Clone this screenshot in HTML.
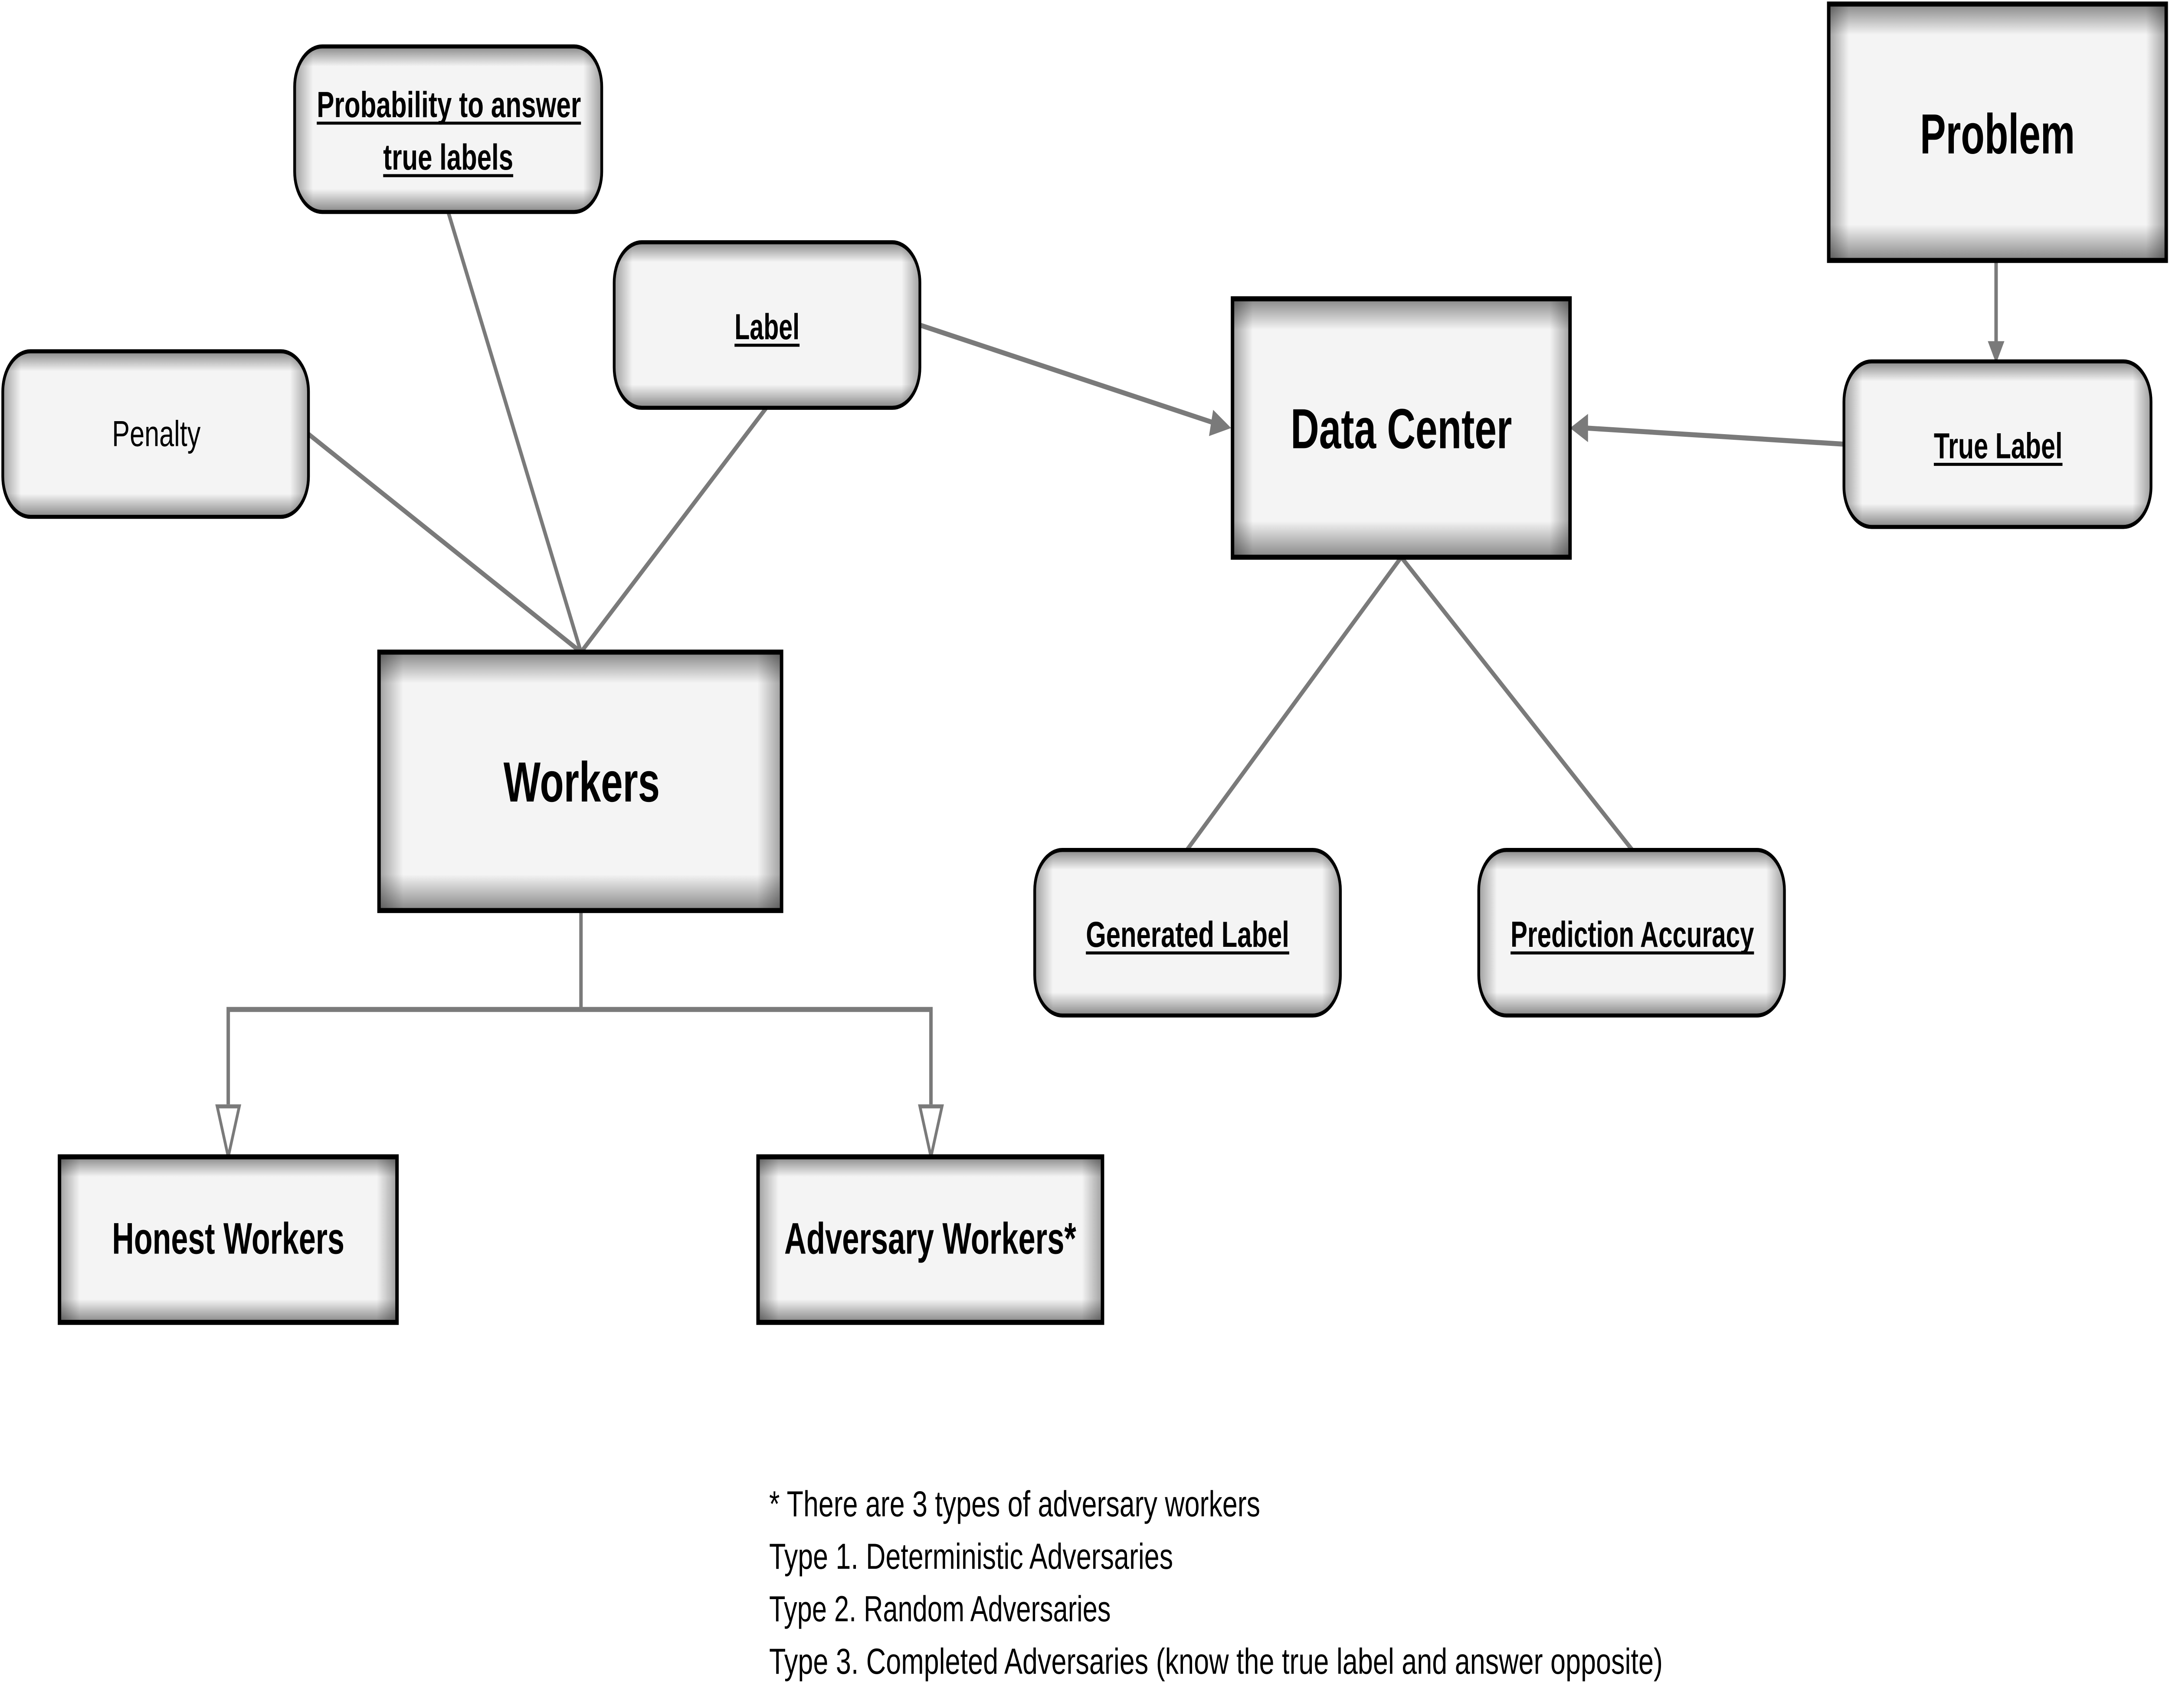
<!DOCTYPE html>
<html><head><meta charset="utf-8"><style>
html,body{margin:0;padding:0;background:#fff;width:100vw;height:100vh;overflow:hidden}
svg{display:block;position:absolute;left:0;top:0;width:100vw;height:100vh}
text{font-family:"Liberation Sans",sans-serif;fill:#000}
</style></head><body>
<svg viewBox="0 0 1568 846" preserveAspectRatio="none" xmlns="http://www.w3.org/2000/svg">
<defs>
<linearGradient id="gv" x1="0" y1="0" x2="0" y2="1">
<stop offset="0" stop-color="#000" stop-opacity="0.45"/>
<stop offset="0.12" stop-color="#000" stop-opacity="0"/>
<stop offset="0.86" stop-color="#000" stop-opacity="0"/>
<stop offset="1" stop-color="#000" stop-opacity="0.45"/>
</linearGradient>
<linearGradient id="gh" x1="0" y1="0" x2="1" y2="0">
<stop offset="0" stop-color="#000" stop-opacity="0.35"/>
<stop offset="0.06" stop-color="#000" stop-opacity="0"/>
<stop offset="0.94" stop-color="#000" stop-opacity="0"/>
<stop offset="1" stop-color="#000" stop-opacity="0.35"/>
</linearGradient>
</defs>

<g stroke="#7a7a7a" stroke-width="2.5" fill="none">
<line x1="223" y1="215" x2="420" y2="323"/>
<line x1="324" y1="105" x2="420" y2="323"/>
<line x1="554" y1="202" x2="420" y2="323"/>
<line x1="665" y1="161" x2="880" y2="210"/>
<line x1="1333" y1="220" x2="1146" y2="212"/>
<line x1="1443" y1="129" x2="1443" y2="170"/>
<line x1="1013" y1="276" x2="858" y2="421"/>
<line x1="1013" y1="276" x2="1180" y2="421"/>
<polyline points="420,451 420,500"/>
<polyline points="165,547 165,500 673,500 673,547"/>
</g>
<g fill="#7a7a7a">
<polygon points="890,212 877,203 874,216"/>
<polygon points="1135,212 1148,205 1148,219"/>
<polygon points="1443,180 1437,169 1449,169"/>
</g>
<g fill="#fff" stroke="#7a7a7a" stroke-width="2">
<polygon points="157,548 173,548 165,573"/>
<polygon points="665,548 681,548 673,573"/>
</g>

<g>
<rect x="213" y="23" width="222" height="82" rx="20" fill="#f4f4f4"/>
<rect x="213" y="23" width="222" height="82" rx="20" fill="url(#gv)"/>
<rect x="213" y="23" width="222" height="82" rx="20" fill="url(#gh)" stroke="#000" stroke-width="2"/>

<rect x="444" y="120" width="221" height="82" rx="20" fill="#f4f4f4"/>
<rect x="444" y="120" width="221" height="82" rx="20" fill="url(#gv)"/>
<rect x="444" y="120" width="221" height="82" rx="20" fill="url(#gh)" stroke="#000" stroke-width="2"/>

<rect x="2" y="174" width="221" height="82" rx="20" fill="#f4f4f4"/>
<rect x="2" y="174" width="221" height="82" rx="20" fill="url(#gv)"/>
<rect x="2" y="174" width="221" height="82" rx="20" fill="url(#gh)" stroke="#000" stroke-width="2"/>

<rect x="1333" y="179" width="222" height="82" rx="20" fill="#f4f4f4"/>
<rect x="1333" y="179" width="222" height="82" rx="20" fill="url(#gv)"/>
<rect x="1333" y="179" width="222" height="82" rx="20" fill="url(#gh)" stroke="#000" stroke-width="2"/>

<rect x="748" y="421" width="221" height="82" rx="20" fill="#f4f4f4"/>
<rect x="748" y="421" width="221" height="82" rx="20" fill="url(#gv)"/>
<rect x="748" y="421" width="221" height="82" rx="20" fill="url(#gh)" stroke="#000" stroke-width="2"/>

<rect x="1069" y="421" width="221" height="82" rx="20" fill="#f4f4f4"/>
<rect x="1069" y="421" width="221" height="82" rx="20" fill="url(#gv)"/>
<rect x="1069" y="421" width="221" height="82" rx="20" fill="url(#gh)" stroke="#000" stroke-width="2"/>
</g>

<g>
<rect x="274" y="323" width="291" height="128" fill="#f4f4f4"/>
<rect x="274" y="323" width="291" height="128" fill="url(#gv)"/>
<rect x="274" y="323" width="291" height="128" fill="url(#gh)" stroke="#000" stroke-width="2.5"/>

<rect x="891" y="148" width="244" height="128" fill="#f4f4f4"/>
<rect x="891" y="148" width="244" height="128" fill="url(#gv)"/>
<rect x="891" y="148" width="244" height="128" fill="url(#gh)" stroke="#000" stroke-width="2.5"/>

<rect x="1322" y="2" width="244" height="127" fill="#f4f4f4"/>
<rect x="1322" y="2" width="244" height="127" fill="url(#gv)"/>
<rect x="1322" y="2" width="244" height="127" fill="url(#gh)" stroke="#000" stroke-width="2.5"/>

<rect x="43" y="573" width="244" height="82" fill="#f4f4f4"/>
<rect x="43" y="573" width="244" height="82" fill="url(#gv)"/>
<rect x="43" y="573" width="244" height="82" fill="url(#gh)" stroke="#000" stroke-width="2.5"/>

<rect x="548" y="573" width="249" height="82" fill="#f4f4f4"/>
<rect x="548" y="573" width="249" height="82" fill="url(#gv)"/>
<rect x="548" y="573" width="249" height="82" fill="url(#gh)" stroke="#000" stroke-width="2.5"/>
</g>

<g font-size="18" font-weight="bold">
<text x="229" y="58" textLength="191" lengthAdjust="spacingAndGlyphs">Probability to answer</text>
<text x="277" y="84" textLength="94" lengthAdjust="spacingAndGlyphs">true labels</text>
<text x="531" y="168" textLength="47" lengthAdjust="spacingAndGlyphs">Label</text>
<text x="1398" y="227" textLength="93" lengthAdjust="spacingAndGlyphs">True Label</text>
<text x="785" y="469" textLength="147" lengthAdjust="spacingAndGlyphs">Generated Label</text>
<text x="1092" y="469" textLength="176" lengthAdjust="spacingAndGlyphs">Prediction Accuracy</text>
</g>
<g stroke="#000" stroke-width="1.5">
<line x1="229" y1="61" x2="420" y2="61"/>
<line x1="277" y1="87" x2="371" y2="87"/>
<line x1="531" y1="171" x2="578" y2="171"/>
<line x1="1398" y1="230" x2="1491" y2="230"/>
<line x1="785" y1="472" x2="932" y2="472"/>
<line x1="1092" y1="472" x2="1268" y2="472"/>
</g>
<text x="81" y="221" font-size="18" textLength="64" lengthAdjust="spacingAndGlyphs">Penalty</text>
<g font-size="28" font-weight="bold">
<text x="364" y="397" textLength="113" lengthAdjust="spacingAndGlyphs">Workers</text>
<text x="933" y="222" textLength="160" lengthAdjust="spacingAndGlyphs">Data Center</text>
<text x="1388" y="76" textLength="112" lengthAdjust="spacingAndGlyphs">Problem</text>
</g>
<g font-size="22" font-weight="bold">
<text x="81" y="621" textLength="168" lengthAdjust="spacingAndGlyphs">Honest Workers</text>
<text x="567" y="621" textLength="211" lengthAdjust="spacingAndGlyphs">Adversary Workers*</text>
</g>
<g font-size="18">
<text x="556" y="751" textLength="355" lengthAdjust="spacingAndGlyphs">* There are 3 types of adversary workers</text>
<text x="556" y="777" textLength="292" lengthAdjust="spacingAndGlyphs">Type 1. Deterministic Adversaries</text>
<text x="556" y="803" textLength="247" lengthAdjust="spacingAndGlyphs">Type 2. Random Adversaries</text>
<text x="556" y="829" textLength="646" lengthAdjust="spacingAndGlyphs">Type 3. Completed Adversaries (know the true label and answer opposite)</text>
</g>
</svg>
</body></html>
